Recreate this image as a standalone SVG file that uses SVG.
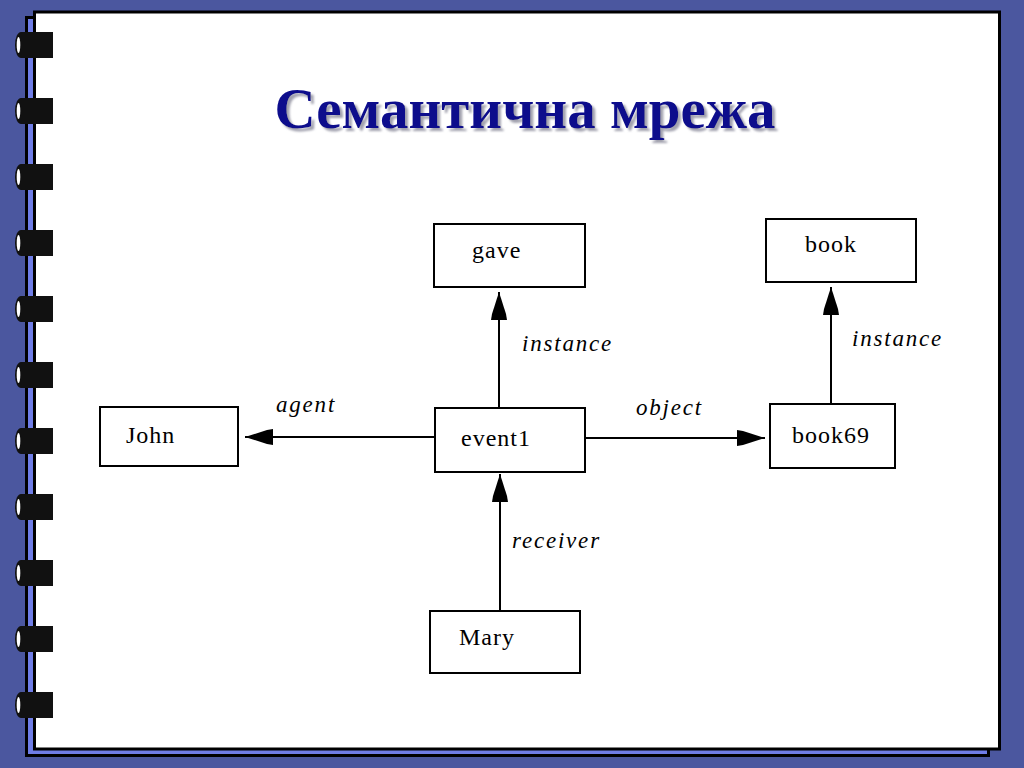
<svg xmlns="http://www.w3.org/2000/svg" width="1024" height="768" viewBox="0 0 1024 768">
<style>
.node rect{fill:#fff;stroke:#000;stroke-width:2}
.node text{font-family:"Liberation Serif",serif;font-size:24px;letter-spacing:1px;fill:#000}
.lbl{font-family:"Liberation Serif",serif;font-style:italic;font-size:23px;letter-spacing:1.8px;fill:#000}
.edge{stroke:#000;stroke-width:2;fill:none}
.title{font-family:"Liberation Serif",serif;font-weight:bold;font-size:57px}
</style>
<defs>
<filter id="sh" x="-5%" y="-20%" width="110%" height="150%">
<feDropShadow dx="3" dy="3" stdDeviation="1.2" flood-color="#8a8a9a" flood-opacity="0.8"/>
</filter>
<marker id="ah" viewBox="-30 -9 32 18" refX="0" refY="0" markerWidth="32" markerHeight="18" markerUnits="userSpaceOnUse" orient="auto">
<path d="M0,0 L-22,-7 L-28,-8 L-28,8 L-22,7 Z" fill="#000"/>
</marker>
<g id="ring">
<path d="M21,0 H53 V26 H21 A6,13 0 0 1 21,0 Z" fill="#111"/>
<ellipse cx="18.5" cy="13" rx="1.8" ry="8" fill="#fff"/>
</g>
</defs>
<rect x="0" y="0" width="1024" height="768" fill="#4b579f"/>
<rect x="26.5" y="17.5" width="962" height="738" fill="#6f7de6" stroke="#000" stroke-width="3"/>
<rect x="34.5" y="12" width="965" height="737" fill="#fff" stroke="#000" stroke-width="3"/>
<g id="rings">
<use href="#ring" y="32"/>
<use href="#ring" y="98"/>
<use href="#ring" y="164"/>
<use href="#ring" y="230"/>
<use href="#ring" y="296"/>
<use href="#ring" y="362"/>
<use href="#ring" y="428"/>
<use href="#ring" y="494"/>
<use href="#ring" y="560"/>
<use href="#ring" y="626"/>
<use href="#ring" y="692"/>
</g>
<g id="title">
<text class="title" x="525" y="128" text-anchor="middle" fill="#0a0a8c" filter="url(#sh)">Семантична мрежа</text>
</g>
<g id="connectors">
<line class="edge" x1="499" y1="408" x2="499" y2="292" marker-end="url(#ah)"/>
<line class="edge" x1="434" y1="437" x2="245" y2="437" marker-end="url(#ah)"/>
<line class="edge" x1="585" y1="438" x2="765" y2="438" marker-end="url(#ah)"/>
<line class="edge" x1="831" y1="404" x2="831" y2="287" stroke-width="3" marker-end="url(#ah)"/>
<line class="edge" x1="500" y1="611" x2="500" y2="474" marker-end="url(#ah)"/>
<text class="lbl" x="522" y="351">instance</text>
<text class="lbl" x="276" y="412">agent</text>
<text class="lbl" x="636" y="415">object</text>
<text class="lbl" x="512" y="548">receiver</text>
<text class="lbl" x="852" y="346">instance</text>
</g>
<g id="gave" class="node"><rect x="434" y="224" width="151" height="63"/><text x="472" y="258">gave</text></g>
<g id="book" class="node"><rect x="766" y="219" width="150" height="63"/><text x="805" y="252">book</text></g>
<g id="john" class="node"><rect x="100" y="407" width="138" height="59"/><text x="126" y="443">John</text></g>
<g id="event1" class="node"><rect x="435" y="408" width="150" height="64"/><text x="461" y="446">event1</text></g>
<g id="book69" class="node"><rect x="770" y="404" width="125" height="64"/><text x="792" y="443">book69</text></g>
<g id="mary" class="node"><rect x="430" y="611" width="150" height="62"/><text x="459" y="645">Mary</text></g>
</svg>
